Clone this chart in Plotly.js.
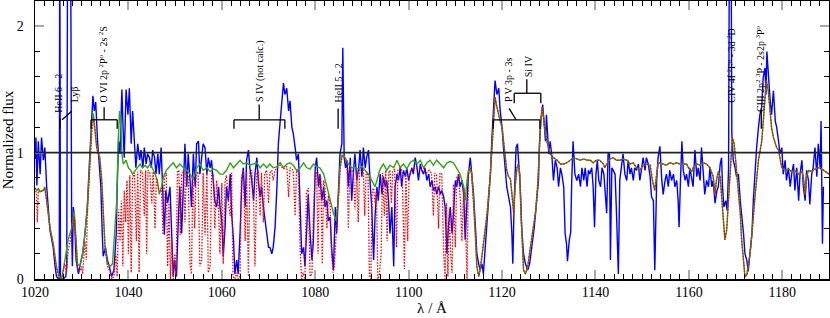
<!DOCTYPE html>
<html>
<head>
<meta charset="utf-8">
<script src="https://cdn.plot.ly/plotly-3.0.1.min.js"></script>
<style>
  html, body { margin: 0; padding: 0; background: #fff; }
  #chart { width: 830px; height: 318px; }
</style>
</head>
<body>
<div id="chart"></div>
<script>
// observed spectrum (blue)
const obsWave = [
  1020.0, 1020.2, 1020.4, 1020.7, 1021.1, 1021.4, 1021.8, 1022.1, 1022.5, 1022.9,
  1023.2, 1023.6, 1023.9, 1024.3, 1024.6, 1025.0, 1025.2, 1025.3, 1025.45, 1026.0,
  1026.6, 1026.8, 1027.0, 1027.3, 1027.6, 1027.85, 1028.0, 1028.2, 1028.5, 1028.8,
  1029.3, 1029.6, 1030.2, 1030.7, 1031.2, 1031.6, 1032.0, 1032.4, 1032.7, 1033.0,
  1033.4, 1033.7, 1034.1, 1034.4, 1034.6, 1035.1, 1035.5, 1035.9, 1036.4, 1036.9,
  1037.4, 1037.6, 1037.9, 1038.2, 1038.6, 1038.9, 1039.1, 1039.5, 1039.9, 1040.2,
  1040.6, 1040.9, 1041.3, 1041.6, 1042.0, 1042.4, 1042.7, 1043.1, 1043.4, 1043.8,
  1044.1, 1044.5, 1044.9, 1045.2, 1045.6, 1045.9, 1046.3, 1046.6, 1047.0, 1047.4,
  1047.7, 1048.0, 1048.4, 1048.9, 1049.2, 1049.6, 1049.9, 1050.3,
  1050.7, 1051.0, 1051.4, 1051.8, 1052.1, 1052.5, 1052.8, 1053.2, 1053.5, 1053.9,
  1054.3, 1054.6, 1055.0, 1055.3, 1055.7, 1056.0, 1056.4, 1056.8, 1057.1, 1057.5,
  1057.8, 1058.2, 1058.5, 1058.9, 1059.3, 1059.6, 1060.0, 1060.3, 1060.7, 1061.0,
  1061.4, 1061.8, 1062.1, 1062.5, 1062.8, 1063.2, 1063.5, 1063.9, 1064.3, 1064.6,
  1065.0, 1065.3, 1065.7, 1066.0, 1066.4, 1066.8, 1067.1, 1067.5, 1067.8, 1068.2,
  1068.5, 1068.9, 1069.3, 1069.6, 1070.0, 1070.3, 1070.7, 1071.0, 1071.4, 1071.8,
  1072.1, 1072.5, 1072.8, 1073.2, 1073.5, 1073.9, 1074.3, 1074.6, 1075.0, 1075.3,
  1075.7, 1076.0, 1076.4, 1076.8, 1077.1, 1077.5, 1077.8, 1078.2, 1078.5, 1078.9,
  1079.3, 1079.6,
  1080.0, 1080.3, 1080.7, 1081.0, 1081.4, 1081.8, 1082.1, 1082.5, 1082.8, 1083.2,
  1083.5, 1083.9, 1084.3, 1084.6, 1085.0, 1085.3, 1085.7, 1085.9, 1086.2, 1086.5,
  1086.8, 1087.1, 1087.5, 1087.8, 1088.2, 1088.5, 1088.9, 1089.3, 1089.6, 1090.0,
  1090.3, 1090.7, 1091.0, 1091.4, 1091.8, 1092.1, 1092.5, 1092.8, 1093.2, 1093.5,
  1093.9, 1094.3, 1094.6, 1095.0, 1095.3, 1095.7, 1096.0, 1096.4, 1096.8, 1097.1,
  1097.5, 1097.8, 1098.2, 1098.5, 1098.9, 1099.3, 1099.6, 1100.0, 1100.3, 1100.7,
  1101.0, 1101.4, 1101.8, 1102.1, 1102.5, 1102.8, 1103.2, 1103.5, 1103.9, 1104.3,
  1104.6, 1105.0, 1105.3, 1105.7, 1106.0, 1106.4, 1106.8, 1107.1, 1107.5, 1107.8,
  1108.2, 1108.5, 1108.9, 1109.3, 1109.6,
  1110.0, 1110.3, 1110.7, 1111.0, 1111.4, 1111.8, 1112.1, 1112.5, 1112.8, 1113.2,
  1113.5, 1113.9, 1114.3, 1114.6, 1115.0, 1115.3, 1115.7, 1116.0, 1116.4, 1116.8,
  1117.1, 1117.5, 1117.8, 1118.2, 1118.5, 1118.9, 1119.3, 1119.6, 1120.0, 1120.3,
  1120.7, 1121.0, 1121.4, 1121.8, 1122.1, 1122.3, 1122.6, 1123.0, 1123.3, 1123.6,
  1123.9, 1124.2, 1124.6, 1125.0, 1125.5, 1125.9, 1126.4, 1126.9, 1127.3, 1127.8,
  1128.0, 1128.3, 1128.7, 1129.0, 1129.3, 1129.5, 1129.8, 1130.0, 1130.3, 1130.7,
  1131.0, 1131.4, 1131.8, 1132.1, 1132.5, 1132.8, 1133.2, 1133.5, 1133.8, 1134.0,
  1134.4, 1134.7, 1134.9, 1135.2, 1135.6, 1136.0, 1136.4, 1136.8, 1137.1, 1137.5,
  1137.8, 1138.2, 1138.5, 1138.8,
  1139.2, 1139.5, 1139.8, 1140.1, 1140.4, 1140.7, 1141.1, 1141.4, 1141.8, 1142.1,
  1142.4, 1142.7, 1143.0, 1143.2, 1143.5, 1143.8, 1144.2, 1144.5, 1144.9, 1145.2,
  1145.6, 1145.9, 1146.3, 1146.7, 1147.0, 1147.4, 1147.7, 1148.1, 1148.4, 1148.8,
  1149.2, 1149.5, 1149.9, 1150.2, 1150.6, 1150.9, 1151.3, 1151.7, 1152.0, 1152.4,
  1152.7, 1153.1, 1153.4, 1153.8, 1154.2, 1154.5, 1154.9, 1155.2, 1155.6, 1155.9,
  1156.3, 1156.7, 1157.0, 1157.4, 1157.7, 1157.9, 1158.2, 1158.5, 1158.8, 1159.2,
  1159.5, 1159.9, 1160.2, 1160.6, 1160.9, 1161.3, 1161.7, 1162.0, 1162.4, 1162.7,
  1163.1, 1163.4, 1163.8, 1164.2, 1164.5, 1164.9, 1165.2,
  1165.6, 1166.0, 1166.3, 1166.7, 1167.0, 1167.2, 1167.5, 1167.9, 1168.2, 1168.5,
  1168.7, 1169.0, 1169.2, 1169.5, 1169.9, 1170.2, 1170.6, 1171.0, 1171.3, 1171.7,
  1172.0, 1172.4, 1172.7, 1173.1, 1173.5, 1173.8, 1174.2, 1174.5, 1174.9, 1175.2,
  1175.6, 1175.9, 1176.3, 1176.5, 1176.7, 1177.0, 1177.4, 1177.7, 1178.1, 1178.5,
  1178.8, 1179.2, 1179.5, 1179.9, 1180.2, 1180.6, 1180.9, 1181.3, 1181.7, 1182.0,
  1182.4, 1182.7, 1183.1, 1183.5, 1183.8, 1184.2, 1184.5, 1184.9, 1185.2, 1185.6,
  1185.9, 1186.3, 1186.6, 1187.0, 1187.4, 1187.7, 1188.1, 1188.3, 1188.6, 1188.8
];
const obsFlux = [
  0.95, 1.12, 0.74, 1.09, 0.83, 1.12, 0.94, 1.04, 0.73, 0.57,
  0.39, 0.31, 0.25, 0.10, 0.02, 0.00, 0.00, 3.00, 0.00, 0.00,
  0.02, 0.10, 3.00, 2.60, 3.00, 0.40, 0.10, 0.57, 0.45, 0.15,
  0.04, 0.10, 0.20, 0.36, 0.57, 0.88, 1.20, 1.45, 1.33, 1.40,
  1.09, 0.94, 0.73, 0.36, 0.18, 0.25, 0.15, 0.10, 0.02, 0.07,
  0.36, 0.73, 1.09, 0.99, 1.50, 1.15, 0.96, 1.50, 1.30, 1.51,
  1.07, 1.33, 1.02, 0.88, 1.07, 0.94, 1.02, 0.88, 1.04, 0.91,
  0.99, 0.96, 0.88, 1.02, 0.96, 0.83, 0.99, 0.83, 1.04, 0.60,
  0.35, 0.70, 0.60, 0.73, 0.40, 0.02, 0.15, 0.02,
  0.49, 0.73, 0.36, 0.88, 1.07, 0.73, 0.99, 0.78, 0.57, 0.99,
  0.73, 1.07, 1.09, 0.83, 0.96, 1.07, 1.04, 0.83, 0.96, 0.88,
  0.94, 0.78, 0.62, 0.57, 0.73, 0.57, 0.46, 0.18, 0.41, 0.73,
  0.62, 0.83, 0.52, 0.31, 0.04, 0.15, 0.04, 0.36, 0.78, 0.88,
  0.57, 0.94, 1.02, 0.88, 0.78, 0.62, 0.83, 0.96, 0.78, 0.65,
  0.73, 0.57, 0.46, 0.36, 0.25, 0.25, 0.20, 0.25, 0.41, 0.73,
  1.07, 1.25, 1.41, 1.55, 1.46, 1.51, 1.33, 1.41, 1.20, 1.15,
  1.04, 0.94, 0.99, 0.62, 0.20, 0.25, 0.10, 0.41, 0.67, 0.36,
  0.15, 0.30,
  0.88, 0.96, 0.73, 0.83, 0.62, 0.73, 0.57, 0.62, 0.46, 0.49,
  0.25, 0.07, 0.57, 0.36, 0.73, 0.99, 1.07, 1.83, 0.96, 0.88,
  0.94, 0.73, 0.96, 0.62, 0.86, 0.99, 0.78, 0.88, 1.02, 0.81,
  1.04, 0.88, 0.96, 1.02, 0.73, 0.57, 0.15, 0.49, 0.73, 0.62,
  0.83, 0.67, 0.81, 0.73, 0.78, 0.62, 0.36, 0.57, 0.10, 0.73,
  0.83, 0.78, 0.88, 0.73, 0.86, 0.81, 0.88, 0.78, 0.83, 0.88,
  0.83, 0.96, 0.88, 0.78, 0.91, 0.86, 0.83, 0.88, 0.78, 0.83,
  0.73, 0.78, 0.70, 0.73, 0.67, 0.73, 0.67, 0.70, 0.65, 0.57,
  0.20, 0.41, 0.57, 0.36, 0.52,
  0.78, 0.73, 0.83, 0.73, 0.78, 0.67, 0.31, 0.62, 0.83, 0.96,
  0.83, 0.67, 0.41, 0.20, 0.12, 0.07, 0.12, 0.04, 0.25, 0.46,
  0.62, 0.83, 1.09, 1.36, 1.57, 1.46, 1.51, 1.33, 1.20, 1.04,
  0.88, 0.73, 0.65, 0.57, 0.36, 0.12, 0.62, 1.04, 1.07, 0.88,
  0.73, 0.41, 0.20, 0.12, 0.07, 0.12, 0.25, 0.41, 0.57, 0.78,
  1.07, 1.25, 1.38, 1.25, 1.09, 1.30, 1.15, 0.99, 1.09, 0.96,
  0.78, 0.94, 0.88, 0.73, 0.88, 0.83, 0.73, 0.36, 0.28, 0.14,
  0.31, 0.37, 0.75, 1.09, 0.83, 0.78, 0.83, 0.73, 0.88, 0.78,
  0.88, 0.73, 0.86, 0.83,
  0.88, 0.73, 0.41, 0.83, 0.94, 0.78, 0.73, 0.88, 0.83, 0.67,
  0.52, 0.99, 0.99, 0.15, 0.88, 0.86, 0.83, 0.52, 0.04, 0.78,
  0.88, 0.99, 0.83, 0.78, 0.94, 0.83, 0.88, 0.78, 0.88, 0.86,
  0.91, 0.78, 0.88, 0.96, 0.86, 0.96, 0.91, 0.81, 0.65, 0.62,
  0.07, 0.78, 0.96, 1.05, 0.78, 0.67, 0.78, 0.83, 0.73, 0.86,
  0.78, 0.83, 0.73, 0.78, 0.62, 0.41, 0.78, 1.09, 0.86, 0.78,
  0.83, 0.73, 0.88, 0.78, 0.73, 1.02, 0.81, 0.88, 0.78, 1.04,
  0.83, 0.67, 0.78, 0.73, 0.88, 0.73, 0.78,
  0.60, 0.70, 0.73, 0.91, 0.96, 0.73, 0.57, 0.62, 0.54, 0.88,
  3.00, 3.00, 1.15, 0.94, 0.88, 0.81, 0.83, 0.62, 0.52, 0.36,
  0.20, 0.15, 0.06, 0.20, 0.36, 0.62, 0.88, 1.04, 1.20, 1.30,
  1.36, 1.59, 1.67, 1.46, 1.80, 1.59, 1.41, 1.30, 1.49, 1.25,
  1.20, 1.09, 0.99, 1.04, 0.83, 0.94, 0.78, 0.88, 0.73, 0.83,
  0.91, 0.70, 0.88, 0.62, 0.83, 0.94, 0.73, 0.62, 0.86, 0.78,
  0.59, 0.83, 0.88, 1.04, 0.81, 1.07, 0.88, 1.25, 0.28, 0.73
];

// model without interstellar absorption (green)
const modelWave = [
  1020.0, 1020.4, 1020.7, 1021.1, 1021.5, 1021.8, 1022.1, 1022.5, 1023.2, 1023.9,
  1024.6, 1025.2, 1025.7, 1026.4, 1027.1, 1027.9, 1028.4, 1028.8, 1029.1, 1029.6,
  1030.2, 1030.7, 1031.2, 1031.8, 1032.2, 1032.5, 1032.9, 1033.2, 1033.6, 1033.9,
  1034.3, 1034.6, 1035.0, 1035.5, 1036.1, 1036.6, 1037.1, 1037.5, 1037.8, 1038.1,
  1038.4, 1038.6, 1038.9, 1039.5, 1040.0, 1040.5, 1040.9, 1041.4, 1041.9, 1042.5,
  1043.0, 1043.6, 1044.1, 1044.6, 1045.1, 1045.7, 1046.2, 1046.6, 1047.1, 1047.5,
  1048.1, 1048.6, 1049.3, 1049.6, 1050.3, 1051.0, 1051.8, 1052.5, 1053.2, 1053.9,
  1054.6, 1055.3, 1056.0, 1056.8, 1057.5, 1058.2, 1058.9, 1059.6, 1060.3, 1061.0,
  1061.8, 1062.5, 1063.2, 1063.9, 1064.6, 1065.3, 1066.0, 1066.8, 1067.5, 1068.2,
  1068.9, 1069.6, 1070.3, 1071.0, 1071.8, 1072.5, 1073.2, 1073.9, 1074.6, 1075.3,
  1076.0, 1076.8, 1077.5, 1078.2, 1078.9, 1079.6, 1080.3, 1081.0, 1081.8, 1082.5,
  1083.2, 1083.9, 1084.5, 1085.0, 1085.3, 1085.7, 1086.0, 1086.4, 1087.1, 1087.8,
  1088.5, 1089.3, 1090.0, 1090.7, 1091.4, 1092.1, 1092.8, 1093.2, 1093.9, 1094.6,
  1095.3, 1096.0, 1096.8, 1097.5, 1098.2, 1098.9, 1099.6, 1100.3, 1101.0, 1101.8,
  1102.5, 1103.2, 1103.9, 1104.6, 1105.3, 1106.0, 1106.8, 1107.5, 1108.2, 1108.9,
  1109.6, 1110.3, 1111.0, 1111.8, 1112.1, 1112.5, 1112.8, 1113.2, 1113.5, 1113.9,
  1114.3, 1114.6, 1115.0, 1115.3, 1115.7, 1116.0, 1116.8, 1117.5, 1117.8, 1118.2,
  1118.5, 1118.9, 1119.3, 1119.6, 1120.0, 1120.3, 1120.7, 1121.0, 1121.4, 1121.8,
  1122.1, 1122.5, 1122.8, 1123.2, 1123.5, 1123.8, 1124.0, 1124.3, 1124.6, 1125.0,
  1125.5, 1126.0, 1126.6, 1127.2, 1127.6, 1128.0, 1128.3, 1128.6, 1128.9, 1129.3,
  1129.6, 1130.0, 1130.3, 1131.0, 1131.8, 1132.5, 1133.2, 1133.9, 1134.6, 1135.3,
  1136.0, 1136.8, 1137.5, 1138.2, 1138.9, 1139.5, 1140.2, 1140.9, 1141.7, 1142.0,
  1142.4, 1143.1, 1143.8, 1144.5, 1145.2, 1145.9, 1146.7, 1147.4, 1148.1, 1148.8,
  1149.5, 1149.9, 1150.2, 1150.9, 1151.7, 1152.2, 1152.7, 1153.1, 1153.4, 1153.8,
  1154.5, 1155.2, 1155.9, 1156.7, 1157.4, 1158.1, 1158.8, 1159.5, 1160.2, 1160.6,
  1160.9, 1161.7, 1162.4, 1163.1, 1163.8, 1164.5, 1165.2, 1165.6, 1165.9, 1166.3,
  1166.7, 1167.0, 1167.4, 1167.7, 1168.1, 1168.5, 1168.8, 1169.3, 1169.7, 1170.0,
  1170.3, 1170.6, 1171.0, 1171.3, 1171.7, 1172.0, 1172.4, 1172.7, 1173.1, 1173.5,
  1173.8, 1174.2, 1174.9, 1175.6, 1176.1, 1176.6, 1177.0, 1177.4, 1177.7, 1178.1,
  1178.5, 1178.8, 1179.2, 1179.5, 1179.9, 1180.2, 1180.6, 1181.3, 1182.0, 1182.7,
  1183.5, 1184.2, 1184.5, 1184.9, 1185.2, 1185.6, 1186.3, 1187.0, 1187.7, 1188.5,
  1189.2, 1190.0
];
const modelFlux = [
  0.72, 0.70, 0.72, 0.69, 0.70, 0.70, 0.73, 0.62, 0.41, 0.28,
  0.10, 0.02, 0.00, 0.15, 0.31, 0.41, 0.54, 0.31, 0.12, 0.10,
  0.20, 0.36, 0.57, 0.96, 1.25, 1.31, 1.17, 1.04, 1.00, 0.96,
  0.78, 0.52, 0.25, 0.12, 0.10, 0.12, 0.36, 0.62, 1.09, 1.33,
  1.20, 0.99, 0.91, 0.94, 0.88, 0.86, 0.83, 0.86, 0.88, 0.91,
  0.88, 0.90, 0.88, 0.91, 0.88, 0.83, 0.78, 0.67, 0.73, 0.81,
  0.86, 0.88, 0.91, 0.92, 0.88, 0.91, 0.88, 0.86, 0.83, 0.79,
  0.88, 0.91, 0.86, 0.88, 0.85, 0.87, 0.86, 0.83, 0.83, 0.86,
  0.92, 0.88, 0.91, 0.94, 0.91, 0.92, 0.90, 0.91, 0.92, 0.88,
  0.91, 0.88, 0.91, 0.88, 0.89, 0.92, 0.88, 0.91, 0.92, 0.90,
  0.86, 0.88, 0.92, 0.88, 0.87, 0.91, 0.89, 0.88, 0.83, 0.73,
  0.62, 0.52, 0.46, 0.67, 0.88, 0.98, 0.98, 0.96, 0.91, 0.88,
  0.88, 0.87, 0.89, 0.86, 0.83, 0.78, 0.73, 0.78, 0.87, 0.91,
  0.86, 0.90, 0.88, 0.94, 0.88, 0.91, 0.87, 0.92, 0.94, 0.91,
  0.94, 0.88, 0.92, 0.94, 0.90, 0.94, 0.91, 0.88, 0.92, 0.93,
  0.92, 0.88, 0.83, 0.73, 0.62, 0.78, 0.86, 0.88, 0.83, 0.62,
  0.36, 0.10, 0.02, 0.07, 0.18, 0.28, 0.52, 0.83, 1.02, 1.25,
  1.44, 1.36, 1.28, 1.25, 1.20, 1.07, 0.96, 0.86, 0.81, 0.79,
  0.67, 0.52, 0.73, 0.88, 0.91, 0.83, 0.57, 0.31, 0.07, 0.04,
  0.10, 0.23, 0.39, 0.54, 0.73, 1.04, 1.25, 1.36, 1.25, 1.15,
  1.09, 1.04, 0.99, 0.96, 0.94, 0.91, 0.91, 0.92, 0.94, 0.96,
  0.95, 0.94, 0.95, 0.94, 0.94, 0.92, 0.94, 0.94, 0.91, 0.88,
  0.91, 0.95, 0.96, 0.94, 0.94, 0.95, 0.94, 0.91, 0.92, 0.88,
  0.86, 0.88, 0.90, 0.91, 0.90, 0.78, 0.70, 0.83, 0.91, 0.92,
  0.91, 0.90, 0.92, 0.91, 0.92, 0.91, 0.91, 0.91, 0.86, 0.85,
  0.88, 0.91, 0.90, 0.92, 0.91, 0.88, 0.81, 0.67, 0.78, 0.85,
  0.81, 0.67, 0.46, 0.31, 0.39, 0.62, 0.88, 1.12, 1.07, 0.94,
  0.83, 0.73, 0.52, 0.31, 0.10, 0.02, 0.03, 0.10, 0.20, 0.36,
  0.52, 0.67, 0.94, 1.09, 1.33, 1.57, 1.49, 1.33, 1.20, 1.12,
  1.07, 1.04, 1.02, 0.96, 0.88, 0.87, 0.86, 0.87, 0.85, 0.86,
  0.83, 0.85, 0.81, 0.67, 0.81, 0.86, 0.85, 0.87, 0.88, 0.87,
  0.85, 0.83
];

// model including interstellar lines (red dotted), up to where it joins the green model
const ismWave = [
  1020.0, 1020.3, 1020.5, 1020.7, 1021.1, 1021.8, 1022.1, 1022.5, 1023.2, 1023.9,
  1024.6, 1025.2, 1025.7, 1026.1, 1026.4, 1026.7, 1027.1, 1027.5, 1027.9, 1028.4,
  1028.8, 1029.1, 1029.6, 1030.0, 1030.2, 1030.5, 1030.7, 1031.0, 1031.2, 1031.8,
  1032.2, 1032.6, 1033.0, 1033.3, 1033.6, 1033.9, 1034.3, 1034.6, 1035.0, 1035.5,
  1036.1, 1036.4, 1036.9, 1037.3, 1037.6, 1037.9, 1038.2, 1038.5, 1038.8, 1039.1,
  1039.4, 1039.7, 1040.0, 1040.3, 1040.6, 1040.9, 1041.3, 1041.7, 1042.0, 1042.3,
  1042.6, 1043.0, 1043.4, 1043.7, 1043.9, 1044.2, 1044.6, 1045.0, 1045.3, 1045.7,
  1046.0, 1046.4, 1046.8, 1047.1, 1047.4, 1047.7, 1048.1, 1048.4, 1048.7, 1049.0,
  1049.3, 1049.6, 1049.9, 1050.2, 1050.5, 1050.8, 1051.1, 1051.4, 1051.8, 1052.1,
  1052.4, 1052.8, 1053.2, 1053.5, 1053.8, 1054.2, 1054.5, 1054.9, 1055.3, 1055.7,
  1056.0, 1056.4, 1056.8, 1057.1, 1057.5, 1057.8, 1058.2, 1058.5, 1058.9, 1059.3,
  1059.6, 1060.0, 1060.3, 1060.7, 1061.0, 1061.4, 1061.8, 1062.1, 1062.4, 1062.8,
  1063.2, 1063.5, 1063.9, 1064.2, 1064.6, 1065.0, 1065.3, 1065.7, 1066.0, 1066.4,
  1066.8, 1067.1, 1067.5, 1067.8, 1068.2, 1068.5, 1068.9, 1069.2, 1069.6, 1070.0,
  1070.3, 1070.7, 1071.0, 1071.4, 1071.8, 1072.5, 1073.2, 1073.9, 1074.3, 1074.6,
  1075.3, 1075.7, 1076.0, 1076.4, 1076.8, 1077.1, 1077.4, 1077.8, 1078.1, 1078.5,
  1078.9, 1079.3, 1079.6, 1080.0, 1080.3, 1080.6, 1080.9, 1081.2, 1081.5, 1081.8,
  1082.1, 1082.5, 1082.8, 1083.2, 1083.5, 1083.8, 1084.1, 1084.4, 1084.7, 1085.0,
  1085.3, 1085.7, 1086.0, 1086.4, 1086.8, 1087.1, 1087.4, 1087.8, 1088.2, 1088.5,
  1088.9, 1089.2, 1089.5, 1089.9, 1090.3, 1090.6, 1090.9, 1091.3, 1091.6, 1091.9,
  1092.2, 1092.5, 1092.8, 1093.1, 1093.4, 1093.7, 1094.1, 1094.4, 1094.8, 1095.1,
  1095.4, 1095.7, 1096.0, 1096.3, 1096.6, 1097.0, 1097.4, 1097.7, 1098.2, 1098.6,
  1099.1, 1099.4, 1099.8, 1100.1, 1100.5, 1101.0, 1101.6, 1102.2, 1102.8, 1103.3,
  1103.9, 1104.4, 1104.9, 1105.3, 1105.6, 1106.0, 1106.4, 1106.7, 1107.1, 1107.5,
  1107.8, 1108.1, 1108.4, 1108.7, 1109.0, 1109.3, 1109.6, 1110.0, 1110.3, 1110.7,
  1111.1, 1111.4, 1111.8, 1112.1, 1112.5, 1112.8, 1113.2
];
const ismFlux = [
  0.72, 0.68, 0.45, 0.70, 0.69, 0.70, 0.72, 0.62, 0.40, 0.27,
  0.08, 0.00, 0.00, 0.08, 0.12, 0.05, 0.22, 0.30, 0.38, 0.50,
  0.28, 0.08, 0.06, 0.10, 0.04, 0.25, 0.30, 0.15, 0.50, 0.92,
  1.18, 1.27, 1.12, 1.02, 0.98, 0.92, 0.76, 0.50, 0.24, 0.10,
  0.06, 0.00, 0.02, 0.20, 0.02, 0.55, 0.30, 0.62, 0.10, 0.70,
  0.45, 0.78, 0.20, 0.82, 0.05, 0.80, 0.84, 0.30, 0.85, 0.05,
  0.86, 0.84, 0.50, 0.86, 0.20, 0.86, 0.84, 0.60, 0.85, 0.40,
  0.80, 0.72, 0.70, 0.72, 0.35, 0.80, 0.84, 0.10, 0.60, 0.00,
  0.30, 0.00, 0.20, 0.02, 0.85, 0.86, 0.35, 0.82, 0.86, 0.45,
  0.84, 0.82, 0.12, 0.04, 0.80, 0.40, 0.83, 0.85, 0.10, 0.15,
  0.84, 0.35, 0.86, 0.05, 0.10, 0.84, 0.82, 0.40, 0.78, 0.55,
  0.20, 0.76, 0.12, 0.78, 0.82, 0.60, 0.50, 0.84, 0.02, 0.00,
  0.05, 0.00, 0.02, 0.80, 0.86, 0.30, 0.84, 0.02, 0.84, 0.86,
  0.60, 0.10, 0.84, 0.86, 0.50, 0.84, 0.45, 0.84, 0.86, 0.60,
  0.84, 0.86, 0.78, 0.86, 0.88, 0.90, 0.87, 0.89, 0.65, 0.88,
  0.86, 0.50, 0.86, 0.84, 0.20, 0.00, 0.05, 0.00, 0.68, 0.72,
  0.02, 0.04, 0.50, 0.86, 0.84, 0.20, 0.83, 0.80, 0.12, 0.78,
  0.72, 0.40, 0.66, 0.58, 0.20, 0.05, 0.10, 0.30, 0.55, 0.66,
  0.86, 0.96, 0.97, 0.95, 0.90, 0.40, 0.88, 0.86, 0.84, 0.55,
  0.84, 0.45, 0.86, 0.88, 0.86, 0.50, 0.85, 0.82, 0.02, 0.00,
  0.70, 0.72, 0.60, 0.70, 0.00, 0.02, 0.20, 0.84, 0.50, 0.86,
  0.30, 0.84, 0.86, 0.60, 0.85, 0.87, 0.25, 0.86, 0.88, 0.85,
  0.08, 0.84, 0.30, 0.82, 0.86, 0.88, 0.87, 0.88, 0.86, 0.88,
  0.84, 0.86, 0.84, 0.50, 0.84, 0.82, 0.40, 0.84, 0.83, 0.20,
  0.00, 0.60, 0.02, 0.55, 0.20, 0.05, 0.75, 0.25, 0.80, 0.83,
  0.60, 0.30, 0.72, 0.55, 0.00, 0.82, 0.88
];

// line identifications: label text, wavelength, flux at the label's lower end
const lineLabels = [
  'HeII 6 - 2', 'Lyβ', 'O VI 2p <sup>2</sup>P<sup>o</sup> - 2s <sup>2</sup>S', 'S IV (not calc.)',
  'HeII 5 - 2', 'P V 3p - 3s', 'Si IV', 'CIV 4f <sup>2</sup>F<sup>o</sup> - 3d <sup>2</sup>D',
  'CIII 2p<sup>2</sup> <sup>3</sup>P - 2s2p <sup>3</sup>P<sup>o</sup>'
];
const labelWave = [1025.1, 1028.35, 1034.6, 1068.2, 1085.0, 1121.4, 1125.6, 1169.0, 1175.25];
const labelFlux = [1.31, 1.39, 1.39, 1.39, 1.39, 1.39, 1.59, 1.39, 1.31];

// join the ISM model with the green model where both are identical
const redWave = ismWave.slice();
const redFlux = ismFlux.slice();
modelWave.forEach((w, i) => {
  if (w > 1113.2) { redWave.push(w); redFlux.push(modelFlux[i]); }
});

const SERIF = 'Liberation Serif, Times New Roman, serif';

function seg(x0, y0, x1, y1) {
  return { type: 'line', xref: 'x', yref: 'y', x0, y0, x1, y1, line: { color: '#000', width: 1.3 } };
}
function bracket(xa, xb, yTop, yBot, xc, yc) {
  return [seg(xa, yBot, xa, yTop), seg(xa, yTop, xb, yTop), seg(xb, yTop, xb, yBot), seg(xc, yTop, xc, yc)];
}

const shapes = [
  { type: 'line', xref: 'paper', yref: 'y', x0: 0, x1: 1, y0: 1, y1: 1, line: { color: '#222', width: 1.6 } },
  seg(1025.35, 1.19, 1025.35, 1.27),
  seg(1025.8, 1.26, 1027.9, 1.33),
  ...bracket(1032.0, 1037.6, 1.26, 1.19, 1034.8, 1.36),
  ...bracket(1062.6, 1073.5, 1.26, 1.19, 1068.0, 1.38),
  seg(1084.9, 1.19, 1084.9, 1.35),
  ...bracket(1118.1, 1128.1, 1.26, 1.19, 1123.0, 1.26),
  seg(1121.5, 1.35, 1123.0, 1.26),
  ...bracket(1122.6, 1128.3, 1.47, 1.39, 1125.3, 1.58),
  seg(1175.5, 1.19, 1175.5, 1.35)
];

const annotations = lineLabels.map((t, i) => ({
  text: t, x: labelWave[i], y: labelFlux[i], xref: 'x', yref: 'y',
  textangle: -90, xanchor: 'center', yanchor: 'bottom', showarrow: false,
  borderpad: 0, font: { family: SERIF, size: 10, color: '#000' }
}));

const data = [
  { type: 'scatter', mode: 'lines', x: obsWave, y: obsFlux,
    line: { color: '#0000ff', width: 1.4 }, hoverinfo: 'skip' },
  { type: 'scatter', mode: 'lines', x: modelWave, y: modelFlux,
    line: { color: 'rgb(50,165,20)', width: 1.4 }, hoverinfo: 'skip' },
  { type: 'scatter', mode: 'lines', x: redWave, y: redFlux,
    line: { color: '#ff0000', width: 1.3, dash: '1.5px,1.5px' }, hoverinfo: 'skip' }
];

const axisCommon = {
  ticks: 'inside', ticklen: 9, tickwidth: 2, tickcolor: '#aaa',
  showline: true, linecolor: '#000', linewidth: 1.5, mirror: 'ticks',
  showgrid: false, zeroline: false,
  tickfont: { family: SERIF, size: 14, color: '#000' }
};

const layout = {
  width: 830, height: 318,
  margin: { l: 35, r: 1, t: 1, b: 39 },
  paper_bgcolor: '#fff', plot_bgcolor: '#fff',
  showlegend: false,
  font: { family: SERIF, color: '#000' },
  xaxis: Object.assign({}, axisCommon, {
    range: [1020, 1190], tick0: 1020, dtick: 20, ticklabelstandoff: 0,
    minor: { dtick: 2, ticks: 'inside', ticklen: 5, tickwidth: 1, tickcolor: '#000' },
    title: { text: 'λ / Å', font: { family: SERIF, size: 15, color: '#000' }, standoff: 2 }
  }),
  yaxis: Object.assign({}, axisCommon, {
    range: [0, 2.2], tick0: 0, dtick: 1, ticklabelstandoff: 7,
    minor: { dtick: 0.2, ticks: 'inside', ticklen: 5, tickwidth: 1, tickcolor: '#000' },
    title: { text: 'Normalized flux', font: { family: SERIF, size: 15, color: '#000' }, standoff: 2 }
  }),
  shapes,
  annotations
};

Plotly.newPlot('chart', data, layout, { displayModeBar: false, staticPlot: true });
</script>
</body>
</html>
